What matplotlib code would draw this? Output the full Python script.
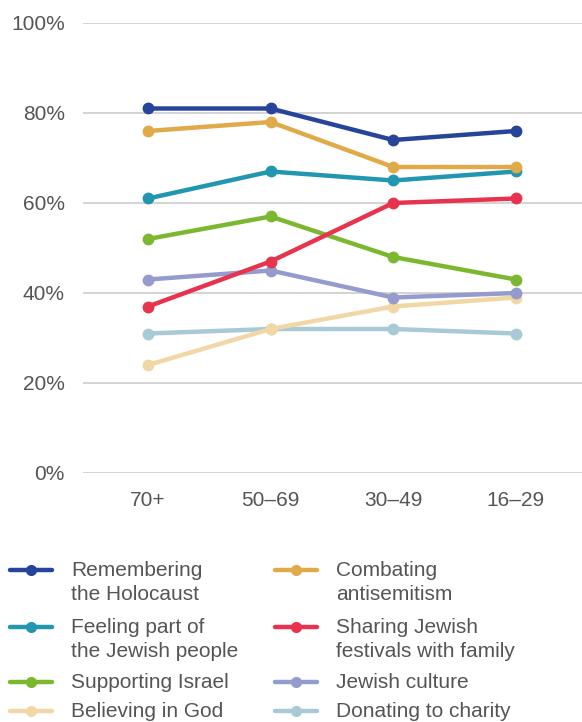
import matplotlib
matplotlib.use("Agg")
import matplotlib.pyplot as plt
from matplotlib.lines import Line2D

plt.rcParams['font.family'] = ['Liberation Sans', 'DejaVu Sans']

age_groups = ["70+", "50–69", "30–49", "16–29"]

remembering = [81, 81, 74, 76]
combating = [76, 78, 68, 68]
feeling_part = [61, 67, 65, 67]
sharing = [37, 47, 60, 61]
supporting = [52, 57, 48, 43]
culture = [43, 45, 39, 40]
believing = [24, 32, 37, 39]
charity = [31, 32, 32, 31]

# (label, values, colour, legend column, legend row)
series = [
    ("Donating to charity", charity, "#a8cad6", 1, 3),
    ("Believing in God", believing, "#f2d7a6", 0, 3),
    ("Jewish culture", culture, "#959bcc", 1, 2),
    ("Supporting Israel", supporting, "#7cb82f", 0, 2),
    ("Sharing Jewish\nfestivals with family", sharing, "#e8334f", 1, 1),
    ("Feeling part of\nthe Jewish people", feeling_part, "#2196b0", 0, 1),
    ("Combating\nantisemitism", combating, "#e0aa48", 1, 0),
    ("Remembering\nthe Holocaust", remembering, "#26449a", 0, 0),
]

text_col = "#555555"
fs = 15
W, H = 582, 722
fig = plt.figure(figsize=(W / 100, H / 100), dpi=100)
ax = fig.add_axes([83 / W, 1 - 473 / H, 499 / W, 450 / H])

x = range(len(age_groups))
for label, vals, col, c, r in series:
    ax.plot(x, vals, color=col, lw=3.2, marker="o", ms=7.5,
            solid_capstyle="round")

ax.set_ylim(0, 100)
ax.set_xlim(-0.53, 3.54)
ax.set_yticks(range(0, 101, 20))
ax.set_yticklabels([f"{v}%" for v in range(0, 101, 20)])
ax.set_xticks(list(x))
ax.set_xticklabels(age_groups)
ax.grid(axis="y", color="#c8c8c8", lw=1.1)
ax.set_axisbelow(True)
for s in ax.spines.values():
    s.set_visible(False)
ax.tick_params(length=0, labelsize=fs, labelcolor=text_col)
ax.tick_params(axis="y", pad=13)
ax.tick_params(axis="x", pad=13)

# legend, drawn by hand so the marker sits on the first text line
row_y = [570, 627, 682, 711]
col_x = [10, 275]
for label, vals, col, c, r in series:
    y = 1 - row_y[r] / H
    x0 = col_x[c] / W
    x1 = (col_x[c] + 42) / W
    fig.add_artist(Line2D([x0, x1], [y, y], color=col, lw=3.2,
                          solid_capstyle="round", transform=fig.transFigure))
    fig.add_artist(Line2D([(x0 + x1) / 2], [y], color=col, marker="o", ms=7,
                          transform=fig.transFigure))
    fig.text((col_x[c] + 61) / W, y + 9 / H, label, fontsize=fs,
             color=text_col, va="top", ha="left", linespacing=1.32)

fig.savefig("out.png", dpi=100)
